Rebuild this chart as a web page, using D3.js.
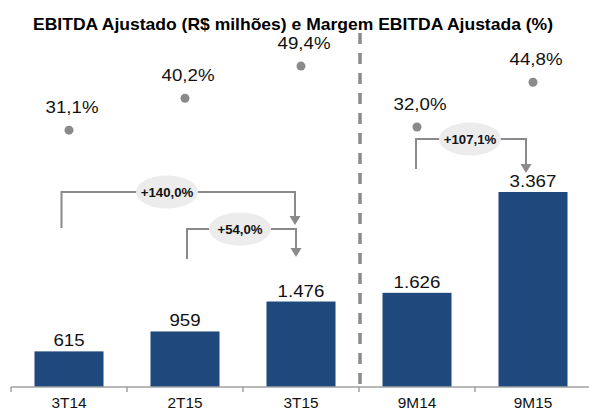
<!DOCTYPE html>
<html><head><meta charset="utf-8">
<script src="https://cdn.jsdelivr.net/npm/d3@7"></script>
<style>
html,body{margin:0;padding:0;background:#fff;}
text{font-family:"Liberation Sans",Arial,sans-serif;}
</style></head>
<body>
<svg id="c" width="589" height="410"></svg>
<script>
const categories = ["3T14","2T15","3T15","9M14","9M15"];
const ebitda = [615, 959, 1476, 1626, 3367];
const ebitdaLabels = ["615","959","1.476","1.626","3.367"];
const margins = [31.1, 40.2, 49.4, 32.0, 44.8];
const marginLabels = ["31,1%","40,2%","49,4%","32,0%","44,8%"];
const growthFrom = [0, 1, 3];
const growthTo = [2, 2, 4];
const growthLabels = ["+140,0%","+54,0%","+107,1%"];
const titleText = "EBITDA Ajustado (R$ milhões) e Margem EBITDA Ajustada (%)";

const svg = d3.select("#c");
const base = 387;
const gray = "#8a8a8a";
const barColor = "#1f497d";
const sx = 1.1;

const x = d3.scaleBand().domain(categories).range([11, 591]).paddingInner(0.405).paddingOuter(0.2025);
const y = d3.scaleLinear().domain([0, 3367]).range([base, 192]);
const ym = d3.scaleLinear().domain([30, 50]).range([134, 64]);
const cx = i => x(categories[i]) + x.bandwidth() / 2;

// title
svg.append("text").attr("x", 293).attr("y", 30).attr("text-anchor", "middle")
  .attr("font-weight", "bold").attr("font-size", 17)
  .attr("textLength", 520).attr("lengthAdjust", "spacingAndGlyphs")
  .text(titleText);

// dashed separator
const sepX = x(categories[3]) - x.step() * x.paddingInner() / 2 + 1;
svg.append("line").attr("x1", sepX).attr("x2", sepX).attr("y1", 33).attr("y2", 392)
  .attr("stroke", gray).attr("stroke-width", 3.5).attr("stroke-dasharray", "11,9");

// bars
svg.selectAll("rect.bar").data(ebitda).join("rect").attr("class", "bar")
  .attr("x", (d, i) => x(categories[i])).attr("width", x.bandwidth())
  .attr("y", d => y(d)).attr("height", d => base - y(d)).attr("fill", barColor);

function stext(g, tx, ty, str, size, weight) {
  return g.append("text").attr("transform", `translate(${tx},${ty}) scale(${sx},1)`)
    .attr("text-anchor", "middle").attr("font-size", size)
    .attr("font-weight", weight || "normal").attr("fill", "#111").text(str);
}

// value labels
ebitda.forEach((v, i) => stext(svg, cx(i), y(v) - 5, ebitdaLabels[i], 17));

// margin dots and labels
margins.forEach((m, i) => {
  svg.append("circle").attr("cx", cx(i)).attr("cy", ym(m)).attr("r", 4.5).attr("fill", gray);
  stext(svg, cx(i) + 3, ym(m) - 17, marginLabels[i], 17);
});

// axis
const axisG = svg.append("g");
axisG.append("line").attr("x1", 11).attr("x2", 589).attr("y1", base).attr("y2", base)
  .attr("stroke", "#a0a0a0").attr("stroke-width", 1.5);
const bounds = categories.map(c => x(c) - x.step() * x.paddingInner() / 2).concat([x.range()[1]]);
bounds.forEach(b => axisG.append("line").attr("x1", b).attr("x2", b).attr("y1", base).attr("y2", base + 5)
  .attr("stroke", "#a0a0a0").attr("stroke-width", 1.5));
const ax = svg.append("g").attr("transform", `translate(0,${base})`)
  .call(d3.axisBottom(x).tickSize(0).tickPadding(0));
ax.select(".domain").remove();
ax.selectAll(".tick text").each(function() {
  const t = d3.select(this);
  t.attr("font-size", 14).attr("fill", "#111")
   .attr("font-family", "Liberation Sans, Arial, sans-serif")
   .attr("dy", 0).attr("y", 0).attr("transform", `translate(0,21) scale(${sx},1)`);
});

// growth brackets (layout per bracket)
const bl = [
  {hy: 192, lx: -7.5, ly: 228, rx: -6, tip: 225, ex: 167},
  {hy: 229, lx: 2, ly: 259, rx: -5, tip: 257, ex: 240},
  {hy: 139, lx: -1, ly: 169, rx: -7, tip: 173, ex: 470}
];
growthLabels.forEach((lab, k) => {
  const L = bl[k];
  const x0 = cx(growthFrom[k]) + L.lx, x1 = cx(growthTo[k]) + L.rx;
  svg.append("path").attr("d", `M${x0},${L.ly}V${L.hy}H${x1}V${L.tip - 8}`)
    .attr("fill", "none").attr("stroke", gray).attr("stroke-width", 2);
  svg.append("path").attr("d", `M${x1 - 5.5},${L.tip - 9}L${x1 + 5.5},${L.tip - 9}L${x1},${L.tip}Z`)
    .attr("fill", gray);
  svg.append("ellipse").attr("cx", L.ex).attr("cy", L.hy).attr("rx", 31).attr("ry", 16.5).attr("fill", "#ececec");
  stext(svg, L.ex, L.hy + 4.5, lab, 12, "bold");
});
</script>
</body></html>
